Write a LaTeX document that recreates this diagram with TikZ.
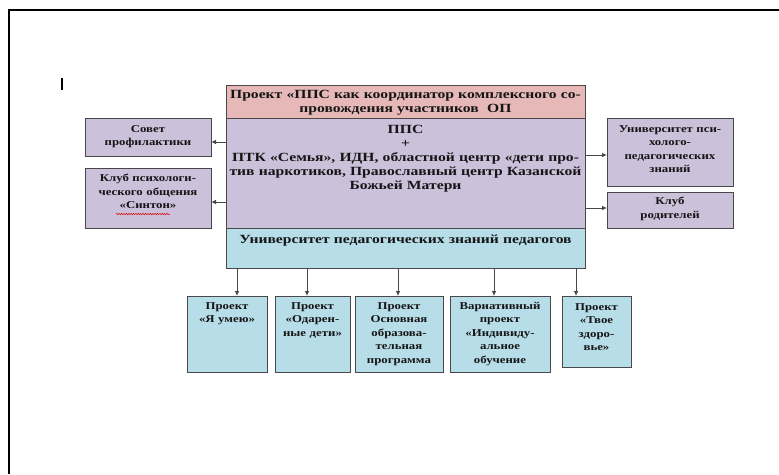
\documentclass[tikz,border=0pt]{standalone}
\usepackage{fontspec}
\setmainfont{Liberation Serif}[FakeStretch=1.22]
\newfontfamily\bigfam{Liberation Serif}[FakeStretch=1.25]
\usetikzlibrary{arrows.meta,calc,decorations.pathmorphing}
\definecolor{pinkf}{HTML}{E6B9B8}
\definecolor{purpf}{HTML}{CCC1DA}
\definecolor{bluef}{HTML}{B7DDE8}
\definecolor{edgec}{HTML}{484848}
\definecolor{inkc}{HTML}{151515}
\newcommand\bigtxt{\bigfam\fontsize{12.5}{14}\selectfont\bfseries}
\newcommand\smtxt{\fontsize{10.5}{13.5}\selectfont\bfseries}
\tikzset{
  boxs/.style={draw=edgec, line width=0.9pt, inner sep=0pt, outer sep=0pt},
  txts/.style={inner sep=0pt, align=center, text=inkc},
  arr/.style={draw=edgec, line width=0.9pt, -{Latex[length=5pt,width=4.6pt]}},
}
\newcommand\mkbox[9]{%
  \pgfmathsetlengthmacro\bw{(#4-#2)*1pt}%
  \pgfmathsetlengthmacro\bh{(#5-#3)*1pt}%
  \pgfmathsetlengthmacro\tw{(#4-#2+40)*1pt}%
  \node[boxs, fill=#6, anchor=north west, minimum width=\bw, minimum height=\bh] (#1) at (#2,#3) {};
  \node[txts, font=#7, text width=\tw, anchor=north] (#1t) at ($(#1.north)+(0,#8)$) {#9};
}
\begin{document}
\begin{tikzpicture}[x=1pt,y=-1pt]
\useasboundingbox (0,0) rectangle (779,474);
% frame
\draw[line width=1.8pt] (779,10) -- (9,10) -- (9,474);
\draw[line width=1.1pt] (62,78) -- (62,90);
% central block
\mkbox{proj}{226}{85}{585}{118}{pinkf}{\bigtxt}{5.5}{Проект «ППС как координатор комплексного со-\\провождения участников\ \ ОП}
\mkbox{pps}{226}{118}{585}{228}{purpf}{\bigtxt}{7}{ППС\\+\\ПТК «Семья», ИДН, областной центр «дети про-\\тив наркотиков, Православный центр Казанской\\Божьей Матери}
\mkbox{univ}{226}{228}{585}{268}{bluef}{\bigtxt}{7}{Университет педагогических знаний педагогов}
% left
\mkbox{sovet}{85}{118}{211}{156}{purpf}{\smtxt}{7}{Совет\\профилактики}
\mkbox{klub}{85}{168}{211}{228}{purpf}{\smtxt}{6}{Клуб психологи-\\ческого общения\\«Синтон»}
% right
\mkbox{upz}{607}{118}{733}{186}{purpf}{\smtxt}{7}{Университет пси-\\холого-\\педагогических\\знаний}
\mkbox{klubr}{607}{192}{733}{228}{purpf}{\smtxt}{5}{Клуб\\родителей}
% bottom
\mkbox{p1}{187}{296}{267}{372}{bluef}{\smtxt}{6}{Проект\\«Я умею»}
\mkbox{p2}{275}{296}{350}{372}{bluef}{\smtxt}{6}{Проект\\«Одарен-\\ные дети»}
\mkbox{p3}{355}{296}{443}{372}{bluef}{\smtxt}{6}{Проект\\Основная\\образова-\\тельная\\программа}
\mkbox{p4}{450}{296}{550}{372}{bluef}{\smtxt}{6}{Вариативный\\проект\\«Индивиду-\\альное\\обучение}
\mkbox{p5}{562}{296}{631}{367}{bluef}{\smtxt}{7}{Проект\\«Твое\\здоро-\\вье»}
% spell-check squiggle
\draw[red!85!black, line width=0.5pt, decorate, decoration={snake, amplitude=0.6pt, segment length=2.4pt}] (116,214) -- (170,214);
% connectors
\draw[arr] (pps.west |- 0,142) -- (sovet.east |- 0,142);
\draw[arr] (pps.west |- 0,202) -- (klub.east |- 0,202);
\draw[arr] (pps.east |- 0,155) -- (upz.west |- 0,155);
\draw[arr] (pps.east |- 0,208) -- (klubr.west |- 0,208);
\draw[arr] (univ.south -| 237,0) -- (p1.north -| 237,0);
\draw[arr] (univ.south -| 307,0) -- (p2.north -| 307,0);
\draw[arr] (univ.south -| 398,0) -- (p3.north -| 398,0);
\draw[arr] (univ.south -| 494,0) -- (p4.north -| 494,0);
\draw[arr] (univ.south -| 576,0) -- (p5.north -| 576,0);
\end{tikzpicture}
\end{document}
